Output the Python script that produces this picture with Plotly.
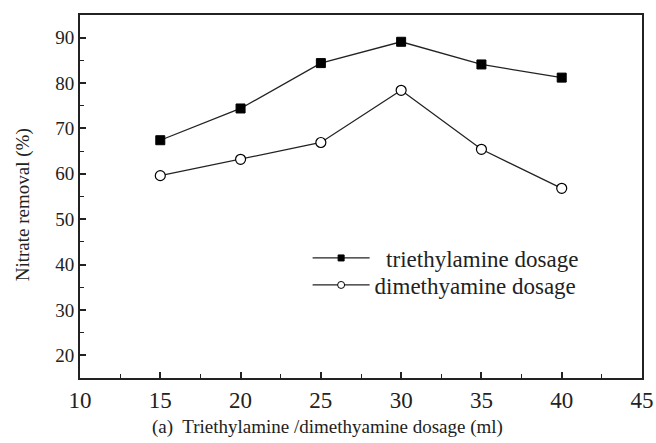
import plotly.graph_objects as go

dosage = [15, 20, 25, 30, 35, 40]
triethylamine = [67.4, 74.4, 84.4, 89.1, 84.1, 81.2]
dimethyamine = [59.6, 63.2, 66.9, 78.4, 65.4, 56.8]
series_names = ["  triethylamine dosage", "dimethyamine dosage"]

font_family = "'Liberation Serif', 'Times New Roman', serif"
line_style = dict(color="#222", width=1.3)

fig = go.Figure()
# data traces
fig.add_trace(go.Scatter(
    x=dosage, y=triethylamine, mode="lines+markers", showlegend=False,
    line=line_style,
    marker=dict(symbol="square", size=9, color="black", line=dict(color="black", width=1)),
))
fig.add_trace(go.Scatter(
    x=dosage, y=dimethyamine, mode="lines+markers", showlegend=False,
    line=line_style,
    marker=dict(symbol="circle", size=10, color="white", line=dict(color="black", width=1.2)),
))
# legend entries (smaller symbols as in the reference)
fig.add_trace(go.Scatter(
    x=[None], y=[None], mode="lines+markers", name=series_names[0], legend="legend",
    line=line_style,
    marker=dict(symbol="square", size=6, color="black", line=dict(color="black", width=1)),
))
fig.add_trace(go.Scatter(
    x=[None], y=[None], mode="lines+markers", name=series_names[1], legend="legend2",
    line=line_style,
    marker=dict(symbol="circle", size=7, color="white", line=dict(color="black", width=1)),
))

legend_common = dict(xanchor="left", yanchor="middle", bgcolor="rgba(0,0,0,0)",
                     font=dict(size=23, family=font_family), itemwidth=57)

fig.update_layout(
    width=656, height=443,
    margin=dict(l=80, r=14, t=15, b=65, autoexpand=False),
    paper_bgcolor="white", plot_bgcolor="white",
    font=dict(family=font_family, color="#222", size=18),
    showlegend=True,
    legend=dict(x=0.405, y=0.3306, **legend_common),
    legend2=dict(x=0.405, y=0.2562, **legend_common),
    annotations=[
        dict(text="Nitrate removal (%)", xref="paper", yref="paper",
             x=-0.101, y=0.4766, textangle=-90, showarrow=False,
             xanchor="center", yanchor="middle", font=dict(size=19)),
        dict(text="(a)  Triethylamine /dimethyamine dosage (ml)", xref="paper", yref="paper",
             x=0.441, y=-0.135, showarrow=False,
             xanchor="center", yanchor="middle", font=dict(size=19)),
    ],
)
fig.update_xaxes(
    range=[10, 45], tickvals=[10, 15, 20, 25, 30, 35, 40, 45],
    ticks="inside", ticklen=6, tickwidth=1.5, tickcolor="#222",
    minor=dict(tickvals=[12.5, 17.5, 22.5, 27.5, 32.5, 37.5, 42.5], ticks="inside", ticklen=4, tickcolor="#222", tickwidth=1.2),
    showline=True, linecolor="#222", linewidth=2, mirror=True,
    showgrid=False, zeroline=False, automargin=False,
    tickfont=dict(size=23),
)
fig.update_yaxes(
    range=[15, 95], tickvals=[20, 30, 40, 50, 60, 70, 80, 90],
    ticks="inside", ticklen=6, tickwidth=1.5, tickcolor="#222",
    minor=dict(tickvals=[25, 35, 45, 55, 65, 75, 85], ticks="inside", ticklen=4, tickcolor="#222", tickwidth=1.2),
    showline=True, linecolor="#222", linewidth=2, mirror=True,
    showgrid=False, zeroline=False, automargin=False,
    tickfont=dict(size=19),
)

fig.write_html("out.html")
